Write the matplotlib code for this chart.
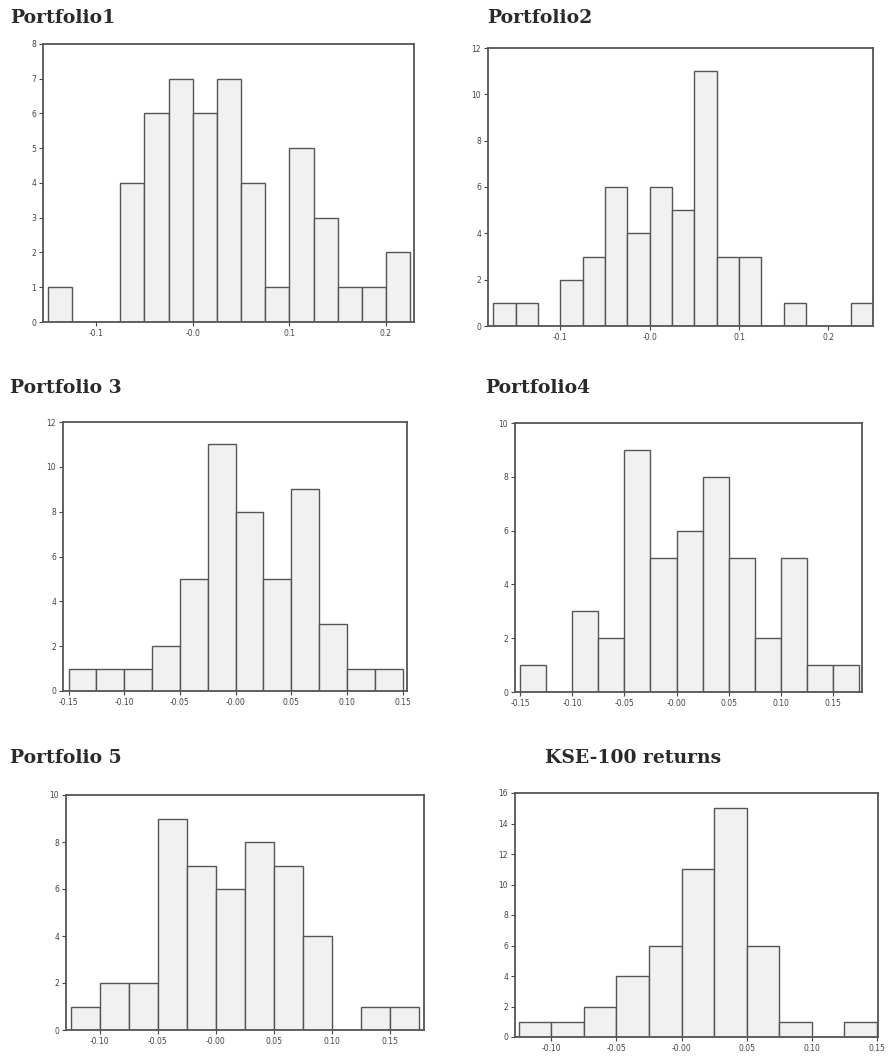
import numpy as np
import matplotlib
matplotlib.use("Agg")
import matplotlib.pyplot as plt

# Data: counts per bin (bin width 0.025), first bin edge per panel
BIN_W = 0.025

titles = ["Portfolio1", "Portfolio2", "Portfolio 3", "Portfolio4", "Portfolio 5", "KSE-100 returns"]

p1_start = -0.15
p1_counts = [1, 0, 0, 4, 6, 7, 6, 7, 4, 1, 5, 3, 1, 1, 2]
p2_start = -0.175
p2_counts = [1, 1, 0, 2, 3, 6, 4, 6, 5, 11, 3, 3, 0, 1, 0, 0, 1]
p3_start = -0.15
p3_counts = [1, 1, 1, 2, 5, 11, 8, 5, 9, 3, 1, 1]
p4_start = -0.15
p4_counts = [1, 0, 3, 2, 9, 5, 6, 8, 5, 2, 5, 1, 1]
p5_start = -0.125
p5_counts = [1, 2, 2, 9, 7, 6, 8, 7, 4, 0, 1, 1]
p6_start = -0.125
p6_counts = [1, 1, 2, 4, 6, 11, 15, 6, 1, 0, 1]

starts = [p1_start, p2_start, p3_start, p4_start, p5_start, p6_start]
counts = [p1_counts, p2_counts, p3_counts, p4_counts, p5_counts, p6_counts]

xticks_a = [-0.1, 0.0, 0.1, 0.2]
xlabels_a = ["-0.1", "-0.0", "0.1", "0.2"]
xticks_b = [-0.15, -0.10, -0.05, 0.0, 0.05, 0.10, 0.15]
xlabels_b = ["-0.15", "-0.10", "-0.05", "-0.00", "0.05", "0.10", "0.15"]
xticks_c = [-0.10, -0.05, 0.0, 0.05, 0.10, 0.15]
xlabels_c = ["-0.10", "-0.05", "-0.00", "0.05", "0.10", "0.15"]

xticks = [(xticks_a, xlabels_a), (xticks_a, xlabels_a), (xticks_b, xlabels_b),
          (xticks_b, xlabels_b), (xticks_c, xlabels_c), (xticks_c, xlabels_c)]
ymax = [8, 12, 12, 10, 10, 16]
ystep = [1, 2, 2, 2, 2, 2]
xlims = [(-0.155, 0.229), (-0.181, 0.25), (-0.155, 0.154),
         (-0.155, 0.178), (-0.129, 0.179), (-0.128, 0.151)]

# axes boxes in pixels: left, right, top, bottom
W, H = 890, 1057
boxes = [(43, 414, 44, 322), (488, 873, 48, 326), (63, 407, 422, 691),
         (515, 862, 423, 692), (66, 424, 795, 1030), (515, 878, 793, 1037)]
title_pos = [(10, 18), (487, 18), (10, 388), (485, 388), (10, 758), (545, 758)]

fig = plt.figure(figsize=(W / 100, H / 100), dpi=100)
fig.patch.set_facecolor("white")

edge_col = "#555555"
for i in range(6):
    l, r, t, b = boxes[i]
    ax = fig.add_axes([l / W, 1 - b / H, (r - l) / W, (b - t) / H])
    c = np.array(counts[i])
    left_edges = starts[i] + BIN_W * np.arange(len(c))
    ax.bar(left_edges, c, width=BIN_W, align="edge", color="#f1f1f1",
           edgecolor=edge_col, linewidth=1.0)
    ax.set_xlim(*xlims[i])
    ax.set_ylim(0, ymax[i])
    ax.set_yticks(np.arange(0, ymax[i] + 1, ystep[i]))
    ax.set_xticks(xticks[i][0])
    ax.set_xticklabels(xticks[i][1])
    ax.tick_params(labelsize=5.5, colors="#444444", length=3, width=0.8, pad=2)
    for s in ax.spines.values():
        s.set_color(edge_col)
        s.set_linewidth(1.3)
    tx, ty = title_pos[i]
    fig.text(tx / W, 1 - ty / H, titles[i], family="DejaVu Serif",
             fontweight="bold", fontsize=13.5, color="#2a2a2a", va="center", ha="left")

fig.savefig("out.png", dpi=100)
